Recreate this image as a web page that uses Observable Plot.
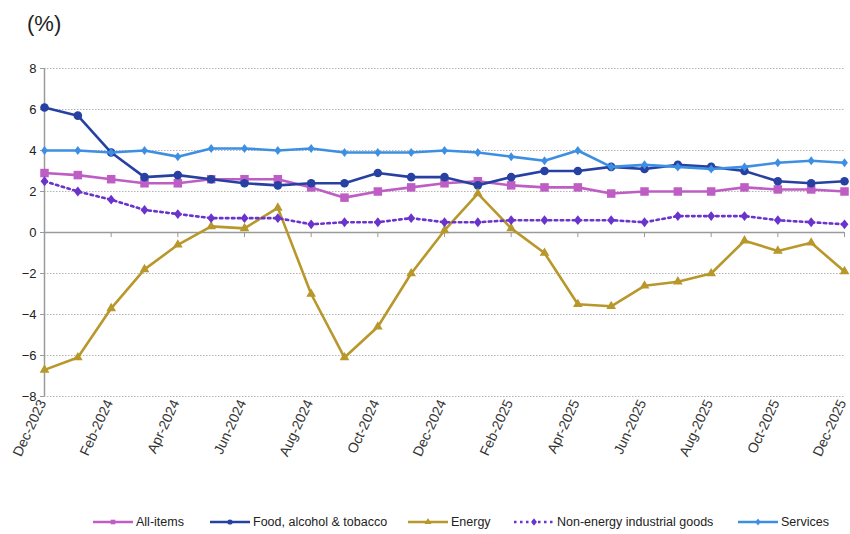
<!DOCTYPE html>
<html><head><meta charset="utf-8">
<script src="https://cdn.jsdelivr.net/npm/d3@7"></script>
<script src="https://cdn.jsdelivr.net/npm/@observablehq/plot@0.6"></script>
<style>
body{margin:0;background:#fff;font-family:"Liberation Sans Narrow","Arial Narrow","Liberation Sans",Arial,sans-serif;}
#wrap{position:relative;width:850px;height:534px;overflow:hidden;}
#title{position:absolute;left:27px;top:11px;font-size:22px;color:#222;}
#chart{position:absolute;left:0;top:50px;}
#legend{position:absolute;left:0;top:514px;width:850px;height:20px;font-size:12.5px;color:#222;}
.item{position:absolute;top:0;display:flex;align-items:center;white-space:nowrap;}
.item svg{margin-right:2px;}
</style></head>
<body><div id="wrap"><div id="title">(%)</div><div id="chart"></div><div id="legend"></div></div>
<script>
const months = ["Dec-2023","Jan-2024","Feb-2024","Mar-2024","Apr-2024","May-2024","Jun-2024","Jul-2024","Aug-2024","Sep-2024","Oct-2024","Nov-2024","Dec-2024","Jan-2025","Feb-2025","Mar-2025","Apr-2025","May-2025","Jun-2025","Jul-2025","Aug-2025","Sep-2025","Oct-2025","Nov-2025","Dec-2025"];
const seriesNames = ["All-items","Food, alcohol & tobacco","Energy","Non-energy industrial goods","Services"];
const allItems  = [2.9,2.8,2.6,2.4,2.4,2.6,2.6,2.6,2.2,1.7,2.0,2.2,2.4,2.5,2.3,2.2,2.2,1.9,2.0,2.0,2.0,2.2,2.1,2.1,2.0];
const food      = [6.1,5.7,3.9,2.7,2.8,2.6,2.4,2.3,2.4,2.4,2.9,2.7,2.7,2.3,2.7,3.0,3.0,3.2,3.1,3.3,3.2,3.0,2.5,2.4,2.5];
const energy    = [-6.7,-6.1,-3.7,-1.8,-0.6,0.3,0.2,1.2,-3.0,-6.1,-4.6,-2.0,0.1,1.9,0.2,-1.0,-3.5,-3.6,-2.6,-2.4,-2.0,-0.4,-0.9,-0.5,-1.9];
const nonEnergy = [2.5,2.0,1.6,1.1,0.9,0.7,0.7,0.7,0.4,0.5,0.5,0.7,0.5,0.5,0.6,0.6,0.6,0.6,0.5,0.8,0.8,0.8,0.6,0.5,0.4];
const services  = [4.0,4.0,3.9,4.0,3.7,4.1,4.1,4.0,4.1,3.9,3.9,3.9,4.0,3.9,3.7,3.5,4.0,3.2,3.3,3.2,3.1,3.2,3.4,3.5,3.4];
const yTicks = [-8,-6,-4,-2,0,2,4,6,8];
const xTickIdx = [0,2,4,6,8,10,12,14,16,18,20,22,24];

function diamond(ratio){
  return {draw(ctx,size){const b=Math.sqrt(size/(2*ratio)),a=b*ratio;ctx.moveTo(0,-b);ctx.lineTo(a,0);ctx.lineTo(0,b);ctx.lineTo(-a,0);ctx.closePath();}};
}
const styles = [
  {values:allItems,  color:"#BE5EC5", symbol:"square",   r:4.8, lr:2.6, dash:null},
  {values:food,      color:"#2641A2", symbol:"circle",   r:4.3, lr:2.6, dash:null},
  {values:energy,    color:"#B8972B", symbol:"triangle", r:3.6, lr:2.6, dash:null},
  {values:nonEnergy, color:"#6A33CC", symbol:diamond(0.8), r:3.5, lr:2.6, dash:"2.5,3.5"},
  {values:services,  color:"#3D8FE2", symbol:diamond(0.75), r:3.1, lr:2.4, dash:null}
];
const series = styles.map((s,k)=>({...s, name:seriesNames[k], rows:s.values.map((v,i)=>({i,v}))}));

const font = '"Liberation Sans Narrow","Arial Narrow","Liberation Sans",Arial,sans-serif';
const marks = [
  Plot.gridY(yTicks.filter(t=>t!==0), {stroke:"#b3b3b3", strokeOpacity:1, strokeDasharray:"1.5,1.5"}),
  Plot.ruleY([0], {stroke:"#9a9a9a", strokeWidth:1.5}),
  Plot.ruleX([0], {stroke:"#9a9a9a", strokeWidth:1.5}),
  Plot.axisY(yTicks, {label:null, tickSize:4, tickPadding:4, stroke:"#9a9a9a", fill:"#222", fontSize:13}),
  Plot.ruleX(xTickIdx.slice(1), {x:d=>d, y1:0, y2:-0.25, stroke:"#9a9a9a"}),
  Plot.axisX(xTickIdx, {label:null, anchor:"bottom", tickSize:0, tickPadding:4, dx:-2, tickRotate:-65, tickFormat:i=>months[i], fill:"#333", fontSize:14})
];
for (const s of series){
  marks.push(Plot.line(s.rows, {x:"i", y:"v", stroke:s.color, strokeWidth:2.6, strokeDasharray:s.dash}));
  marks.push(Plot.dot(s.rows, {x:"i", y:"v", symbol:s.symbol, r:s.r, fill:s.color, stroke:"none"}));
}
const chart = Plot.plot({
  width:850, height:440, marginTop:18, marginBottom:94, marginLeft:44, marginRight:6,
  style:{fontFamily:font, fontSize:"12px", background:"white", overflow:"visible"},
  x:{domain:[0,24], axis:null},
  y:{domain:[-8,8], axis:null},
  marks
});
document.getElementById("chart").appendChild(chart);

// legend
const lefts = [92,209,407,513,737];
const legend = document.getElementById("legend");
series.forEach((s,k)=>{
  const div = document.createElement("div");
  div.className="item"; div.style.left=lefts[k]+"px";
  const svg = d3.create("svg").attr("width",42).attr("height",16);
  svg.append("line").attr("x1",1).attr("x2",41).attr("y1",8).attr("y2",8).attr("stroke",s.color).attr("stroke-width",2.6).attr("stroke-dasharray",s.dash);
  const sym = typeof s.symbol==="string" ? {square:d3.symbolSquare,circle:d3.symbolCircle,triangle:d3.symbolTriangle}[s.symbol] : s.symbol;
  svg.append("path").attr("transform","translate(21,8)").attr("fill",s.color).attr("d",d3.symbol(sym, Math.PI*s.lr*s.lr)());
  div.appendChild(svg.node());
  const t = document.createElement("span"); t.textContent=s.name; div.appendChild(t);
  legend.appendChild(div);
});
</script></body></html>
